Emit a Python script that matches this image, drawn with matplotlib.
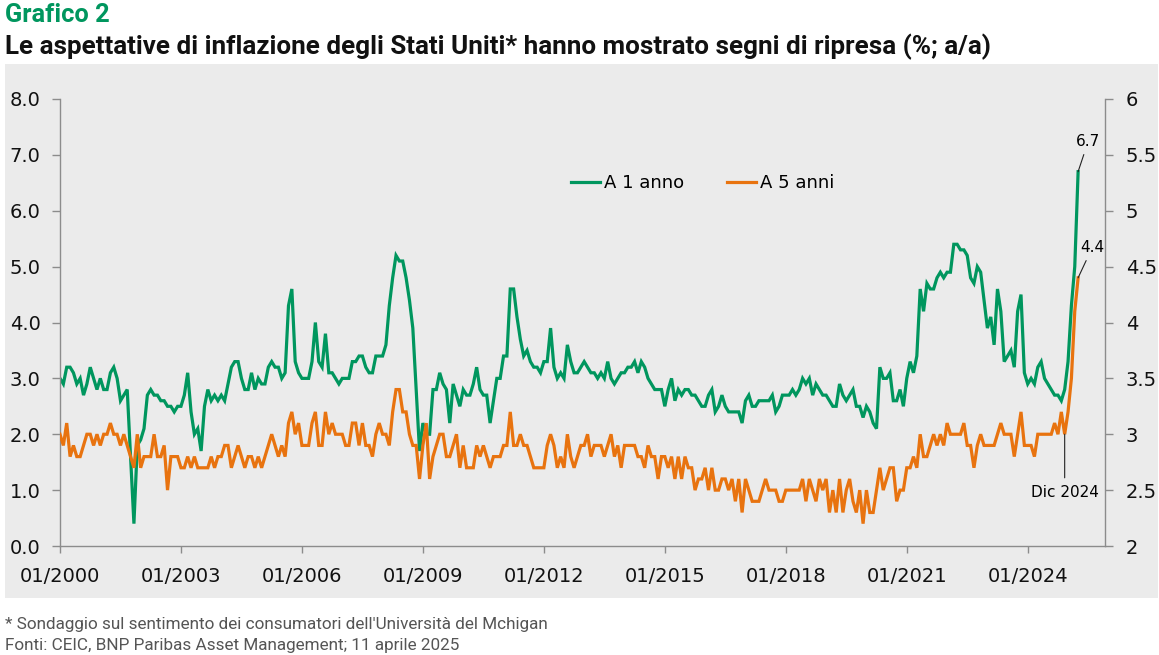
import numpy as np
import matplotlib
matplotlib.use("Agg")
import matplotlib.pyplot as plt
from matplotlib.patches import Rectangle
from matplotlib.lines import Line2D

# ---------------- data (monthly, from 01/2000 to 04/2025) ----------------
one_year = [
    3.0, 2.9, 3.2, 3.2, 3.1, 2.9, 3.0, 2.7, 2.9, 3.2, 3.0, 2.8,   # 2000
    3.0, 2.8, 2.8, 3.1, 3.2, 3.0, 2.6, 2.7, 2.8, 1.6, 0.4, 1.8,   # 2001
    1.9, 2.1, 2.7, 2.8, 2.7, 2.7, 2.6, 2.6, 2.5, 2.5, 2.4, 2.5,   # 2002
    2.5, 2.7, 3.1, 2.4, 2.0, 2.1, 1.7, 2.5, 2.8, 2.6, 2.7, 2.6,   # 2003
    2.7, 2.6, 2.9, 3.2, 3.3, 3.3, 3.0, 2.8, 2.8, 3.1, 2.8, 3.0,   # 2004
    2.9, 2.9, 3.2, 3.3, 3.2, 3.2, 3.0, 3.1, 4.3, 4.6, 3.3, 3.1,   # 2005
    3.0, 3.0, 3.0, 3.3, 4.0, 3.3, 3.2, 3.8, 3.1, 3.1, 3.0, 2.9,   # 2006
    3.0, 3.0, 3.0, 3.3, 3.3, 3.4, 3.4, 3.2, 3.1, 3.1, 3.4, 3.4,   # 2007
    3.4, 3.6, 4.3, 4.8, 5.2, 5.1, 5.1, 4.8, 4.4, 3.9, 2.8, 1.7,   # 2008
    2.2, 2.0, 2.0, 2.8, 2.8, 3.1, 2.9, 2.8, 2.2, 2.9, 2.7, 2.5,   # 2009
    2.8, 2.7, 2.7, 2.9, 3.2, 2.8, 2.7, 2.7, 2.2, 2.6, 3.0, 3.0,   # 2010
    3.4, 3.4, 4.6, 4.6, 4.1, 3.7, 3.4, 3.5, 3.3, 3.2, 3.2, 3.1,   # 2011
    3.3, 3.3, 3.9, 3.2, 3.0, 3.1, 3.0, 3.6, 3.3, 3.1, 3.1, 3.2,   # 2012
    3.3, 3.2, 3.1, 3.1, 3.0, 3.1, 3.0, 3.3, 3.0, 2.9, 3.0, 3.1,   # 2013
    3.1, 3.2, 3.2, 3.3, 3.1, 3.3, 3.2, 3.0, 2.9, 2.8, 2.8, 2.8,   # 2014
    2.5, 2.8, 3.0, 2.6, 2.8, 2.7, 2.8, 2.8, 2.7, 2.7, 2.6, 2.5,   # 2015
    2.5, 2.7, 2.8, 2.4, 2.5, 2.7, 2.5, 2.4, 2.4, 2.4, 2.4, 2.2,   # 2016
    2.6, 2.7, 2.5, 2.5, 2.6, 2.6, 2.6, 2.6, 2.7, 2.4, 2.5, 2.7,   # 2017
    2.7, 2.7, 2.8, 2.7, 2.8, 3.0, 2.9, 3.0, 2.7, 2.9, 2.8, 2.7,   # 2018
    2.7, 2.6, 2.5, 2.5, 2.9, 2.7, 2.6, 2.7, 2.8, 2.5, 2.5, 2.3,   # 2019
    2.5, 2.4, 2.2, 2.1, 3.2, 3.0, 3.0, 3.1, 2.6, 2.6, 2.8, 2.5,   # 2020
    3.0, 3.3, 3.1, 3.4, 4.6, 4.2, 4.7, 4.6, 4.6, 4.8, 4.9, 4.8,   # 2021
    4.9, 4.9, 5.4, 5.4, 5.3, 5.3, 5.2, 4.8, 4.7, 5.0, 4.9, 4.4,   # 2022
    3.9, 4.1, 3.6, 4.6, 4.2, 3.3, 3.4, 3.5, 3.2, 4.2, 4.5, 3.1,   # 2023
    2.9, 3.0, 2.9, 3.2, 3.3, 3.0, 2.9, 2.8, 2.7, 2.7, 2.6, 2.8,   # 2024
    3.3, 4.3, 5.0, 6.7,                                           # 2025
]

five_year = [
    3.0, 2.9, 3.1, 2.8, 2.9, 2.8, 2.8, 2.9, 3.0, 3.0, 2.9, 3.0,   # 2000
    2.9, 3.0, 3.0, 3.1, 3.0, 3.0, 2.9, 3.0, 2.9, 2.8, 2.7, 3.0,   # 2001
    2.7, 2.8, 2.8, 2.8, 3.0, 2.8, 2.8, 2.9, 2.5, 2.8, 2.8, 2.8,   # 2002
    2.7, 2.7, 2.8, 2.7, 2.8, 2.7, 2.7, 2.7, 2.7, 2.8, 2.7, 2.8,   # 2003
    2.8, 2.9, 2.9, 2.7, 2.8, 2.9, 2.8, 2.7, 2.8, 2.8, 2.7, 2.8,   # 2004
    2.7, 2.8, 2.9, 3.0, 2.9, 2.8, 2.9, 2.8, 3.1, 3.2, 3.0, 3.1,   # 2005
    2.9, 2.9, 2.9, 3.1, 3.2, 2.9, 2.9, 3.2, 3.0, 3.1, 3.0, 3.0,   # 2006
    3.0, 2.9, 2.9, 3.1, 3.1, 2.9, 3.1, 2.9, 2.9, 2.8, 3.0, 3.1,   # 2007
    3.0, 3.0, 2.9, 3.2, 3.4, 3.4, 3.2, 3.2, 3.0, 2.9, 2.9, 2.6,   # 2008
    2.9, 3.1, 2.6, 2.8, 2.9, 3.0, 3.0, 2.8, 2.8, 2.9, 3.0, 2.7,   # 2009
    2.9, 2.7, 2.7, 2.7, 2.9, 2.8, 2.9, 2.8, 2.7, 2.8, 2.8, 2.8,   # 2010
    2.9, 2.9, 3.2, 2.9, 2.9, 3.0, 2.9, 2.9, 2.8, 2.7, 2.7, 2.7,   # 2011
    2.7, 2.9, 3.0, 2.9, 2.7, 2.8, 2.7, 3.0, 2.8, 2.7, 2.8, 2.9,   # 2012
    2.9, 3.0, 2.8, 2.9, 2.9, 2.9, 2.8, 2.9, 3.0, 2.8, 2.9, 2.7,   # 2013
    2.9, 2.9, 2.9, 2.9, 2.8, 2.8, 2.7, 2.9, 2.8, 2.8, 2.6, 2.8,   # 2014
    2.8, 2.7, 2.8, 2.6, 2.8, 2.6, 2.8, 2.7, 2.7, 2.5, 2.6, 2.6,   # 2015
    2.7, 2.5, 2.7, 2.5, 2.5, 2.6, 2.6, 2.5, 2.6, 2.4, 2.6, 2.3,   # 2016
    2.6, 2.5, 2.4, 2.4, 2.4, 2.5, 2.6, 2.5, 2.5, 2.5, 2.4, 2.4,   # 2017
    2.5, 2.5, 2.5, 2.5, 2.5, 2.6, 2.4, 2.6, 2.5, 2.4, 2.6, 2.5,   # 2018
    2.6, 2.3, 2.5, 2.3, 2.6, 2.3, 2.5, 2.6, 2.4, 2.3, 2.5, 2.2,   # 2019
    2.5, 2.3, 2.3, 2.5, 2.7, 2.5, 2.6, 2.7, 2.7, 2.4, 2.5, 2.5,   # 2020
    2.7, 2.7, 2.8, 2.7, 3.0, 2.8, 2.8, 2.9, 3.0, 2.9, 3.0, 2.9,   # 2021
    3.1, 3.0, 3.0, 3.0, 3.0, 3.1, 2.9, 2.9, 2.7, 2.9, 3.0, 2.9,   # 2022
    2.9, 2.9, 2.9, 3.0, 3.1, 3.0, 3.0, 3.0, 2.8, 3.0, 3.2, 2.9,   # 2023
    2.9, 2.9, 2.8, 3.0, 3.0, 3.0, 3.0, 3.0, 3.1, 3.0, 3.2, 3.0,   # 2024
    3.2, 3.5, 4.1, 4.4,                                           # 2025
]

series_names = ["A 1 anno", "A 5 anni"]
xtick_labels = ["01/2000", "01/2003", "01/2006", "01/2009", "01/2012",
                "01/2015", "01/2018", "01/2021", "01/2024"]
xtick_step_months = 36
left_ticks = [0.0, 1.0, 2.0, 3.0, 4.0, 5.0, 6.0, 7.0, 8.0]
right_ticks = [2, 2.5, 3, 3.5, 4, 4.5, 5, 5.5, 6]
right_tick_labels = ["2", "2.5", "3", "3.5", "4", "4.5", "5", "5.5", "6"]
dec2024_index = 299

# ---------------- style ----------------
GREEN = "#00965E"
ORANGE = "#E8730F"
AXIS_GRAY = "#8C8C8C"
BG = "#EBEBEB"
W, H = 1159, 655

plt.rcParams["font.family"] = ["DejaVu Sans"]

fig = plt.figure(figsize=(W / 100, H / 100), dpi=100)
fig.patches.append(Rectangle((5 / W, 1 - 598 / H), 1153 / W, (598 - 64) / H,
                             transform=fig.transFigure, facecolor=BG,
                             edgecolor="none", zorder=-10))

ax = fig.add_axes([60 / W, 1 - 546 / H, 1045 / W, 447 / H])
ax.patch.set_alpha(0)
ax2 = ax.twinx()
ax2.patch.set_alpha(0)

x = np.arange(len(one_year))
l1, = ax.plot(x, one_year, color=GREEN, lw=2.3, solid_joinstyle="miter")
l2, = ax2.plot(x, five_year, color=ORANGE, lw=2.3, solid_joinstyle="miter")

ax.set_xlim(0, 311)
ax.set_ylim(0, 8)
ax2.set_ylim(2, 6)

ax.set_xticks([i * xtick_step_months for i in range(len(xtick_labels))])
ax.set_xticklabels(xtick_labels, fontsize=14)
ax.set_yticks(left_ticks)
ax.set_yticklabels([f"{v:.1f}" for v in left_ticks], fontsize=14)
ax2.set_yticks(right_ticks)
ax2.set_yticklabels(right_tick_labels, fontsize=14)

for a in (ax, ax2):
    for s in a.spines.values():
        s.set_visible(False)
ax.spines["left"].set_visible(True)
ax.spines["bottom"].set_visible(True)
ax2.spines["right"].set_visible(True)
for s in (ax.spines["left"], ax.spines["bottom"], ax2.spines["right"]):
    s.set_color(AXIS_GRAY)
    s.set_linewidth(1.0)

ax.tick_params(axis="y", direction="out", length=6, width=1.0, color=AXIS_GRAY,
               pad=8, labelcolor="#111111")
ax.tick_params(axis="x", direction="out", length=5, width=1.0, color=AXIS_GRAY,
               pad=10, labelcolor="#111111")
ax2.tick_params(axis="y", direction="out", length=6, width=1.0, color=AXIS_GRAY,
                pad=9, labelcolor="#111111")

# legend
handles = [Line2D([], [], color=GREEN, lw=2.3), Line2D([], [], color=ORANGE, lw=2.3)]
ax2.legend(handles, series_names, loc="center", bbox_to_anchor=(0.615, 0.812),
           ncol=2, frameon=False, fontsize=13, handlelength=1.6,
           handletextpad=0.2, columnspacing=2.4)

# annotations
last = len(one_year) - 1
ax.annotate(f"{one_year[last]:.1f}", xy=(x[last], one_year[last]),
            xytext=(10, 30), textcoords="offset pixels", ha="center", va="center",
            fontsize=11, arrowprops=dict(arrowstyle="-", color="#222222", lw=0.8,
                                         shrinkA=2, shrinkB=0))
ax2.annotate(f"{five_year[last]:.1f}", xy=(x[last], five_year[last]),
             xytext=(14, 30), textcoords="offset pixels", ha="center", va="center",
             fontsize=11, arrowprops=dict(arrowstyle="-", color="#222222", lw=0.8,
                                          shrinkA=2, shrinkB=0))
ax2.annotate("Dic 2024", xy=(x[dec2024_index], five_year[dec2024_index]),
             xytext=(0, -58), textcoords="offset pixels", ha="center", va="center",
             fontsize=11, arrowprops=dict(arrowstyle="-", color="#222222", lw=0.8,
                                          shrinkA=3, shrinkB=0))

# titles and footnotes
fig.text(5 / W, 1 - 22 / H, "Grafico 2", color=GREEN, fontsize=18.3,
         fontweight="bold", family=["Roboto", "DejaVu Sans"], va="baseline")
fig.text(5 / W, 1 - 54 / H,
         "Le aspettative di inflazione degli Stati Uniti* hanno mostrato segni di ripresa (%; a/a)",
         color="#111111", fontsize=18.7, fontweight="bold",
         family=["Roboto", "DejaVu Sans"], va="baseline")
fig.text(5 / W, 1 - 629 / H,
         "* Sondaggio sul sentimento dei consumatori dell'Università del Mchigan",
         color="#555555", fontsize=12.3, family=["Roboto", "DejaVu Sans"], va="baseline")
fig.text(5 / W, 1 - 650 / H,
         "Fonti: CEIC, BNP Paribas Asset Management; 11 aprile 2025",
         color="#555555", fontsize=12.3, family=["Roboto", "DejaVu Sans"], va="baseline")

fig.savefig("out.png", dpi=100)
